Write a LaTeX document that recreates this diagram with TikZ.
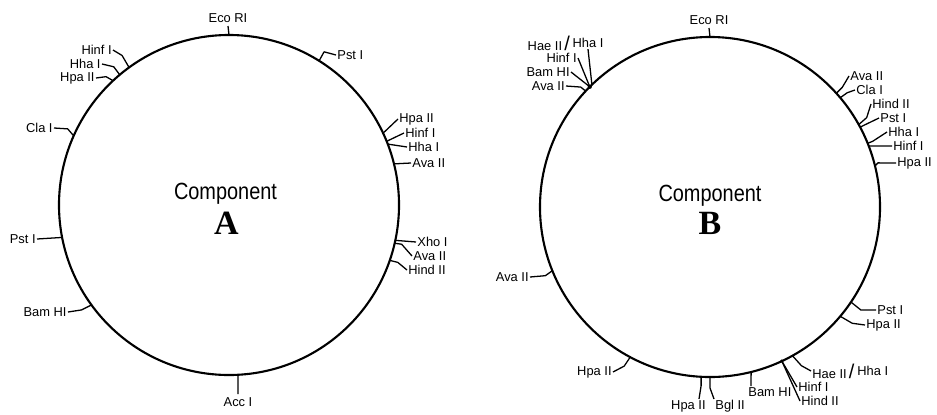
\documentclass[tikz,border=0pt]{standalone}
\usepackage{fontspec}
\setmainfont{Liberation Sans}
\newfontfamily\compfont[FakeStretch=0.85]{Liberation Sans}
\newfontfamily\letterfont{Liberation Serif}
\usetikzlibrary{positioning}
\begin{document}
\begin{tikzpicture}[x=0.03cm, y=-0.03cm,
  every node/.style={font=\fontsize{11}{12}\selectfont},
  plasmid/.style={circle, draw, line width=1.8pt, minimum size=10.2cm, inner sep=0pt, outer sep=0pt},
  site/.style={inner sep=1pt},
  sitetip/.style={inner sep=3pt},
  cut/.style={line width=1.1pt, line join=round},
  comptext/.style={font=\compfont\fontsize{20}{22}\selectfont},
  completter/.style={font=\letterfont\bfseries\fontsize{29}{30}\selectfont}
]
\useasboundingbox (0,0) rectangle (937,414);
% Component A
\node[plasmid] (A) at (229,205) {};
\node[comptext] (compA) at (225.5,194) {Component};
\node[completter] (letA) at (226.5,223) {A};
\node[sitetip, anchor=south] (ecoA) at (228,26) {Eco RI};
\node[site, anchor=west] (pstA1) at (336,55) {Pst I};
\node[site, anchor=west] (hpaA1) at (398,119) {Hpa II};
\node[site, anchor=west] (hinfA1) at (404,133) {Hinf I};
\node[site, anchor=west] (hhaA1) at (407,147) {Hha I};
\node[site, anchor=west] (avaA1) at (411,163) {Ava II};
\node[site, anchor=west] (xhoA) at (416,242) {Xho I};
\node[site, anchor=west] (avaA2) at (412,256) {Ava II};
\node[site, anchor=west] (hindA) at (407,270) {Hind II};
\node[sitetip, anchor=north] (accA) at (238,394) {Acc I};
\node[site, anchor=east] (bamA) at (68,312) {Bam HI};
\node[site, anchor=east] (pstA2) at (37,239) {Pst I};
\node[site, anchor=east] (claA) at (54,128) {Cla I};
\node[site, anchor=east] (hpaA2) at (96,78) {Hpa II};
\node[site, anchor=east] (hhaA2) at (102,64) {Hha I};
\node[site, anchor=east] (hinfA2) at (113,50) {Hinf I};
\draw[cut] (A.90) -- (ecoA.south);
\draw[cut] (A.58) -- ++(5,-9) -- (pstA1.west);
\draw[cut] (A.25) -- (hpaA1.west);
\draw[cut] (A.22) -- (hinfA1.west);
\draw[cut] (A.21) -- (hhaA1.west);
\draw[cut] (A.14) -- (avaA1.west);
\draw[cut] (A.348) -- (xhoA.west);
\draw[cut] (A.347) -- ++(7,1) -- (avaA2.west);
\draw[cut] (A.341) -- ++(8,2) -- (hindA.west);
\draw[cut] (A.273) -- (accA.north);
\draw[cut] (A.216) -- ++(-10,5) -- (bamA.east);
\draw[cut] (A.191) -- (pstA2.east);
\draw[cut] (A.156) -- ++(-6,-7) -- (claA.east);
\draw[cut] (A.133) -- ++(-7,-4) -- (hpaA2.east);
\draw[cut] (A.130) -- ++(-6,-8) -- (hhaA2.east);
\draw[cut] (A.126) -- ++(-7,-12) -- (hinfA2.east);
% Component B
\node[plasmid] (B) at (710,207) {};
\node[comptext] (compB) at (710,196) {Component};
\node[completter] (letB) at (710,223) {B};
\node[sitetip, anchor=south] (ecoB) at (709,28) {Eco RI};
\node[site] (hhaB1) at (588,43) {Hha I};
\node[site, left=0pt of hhaB1] (haeB1) {Hae II\,{\fontsize{17}{17}\selectfont/}};
\node[site, anchor=east] (hinfB1) at (578,58) {Hinf I};
\node[site, anchor=east] (bamB1) at (571,72) {Bam HI};
\node[site, anchor=east] (avaB1) at (566,86) {Ava II};
\node[site, anchor=west] (avaB2) at (849,76) {Ava II};
\node[site, anchor=west] (claB) at (855,90) {Cla I};
\node[site, anchor=west] (hindB1) at (871,104) {Hind II};
\node[site, anchor=west] (pstB1) at (879,118) {Pst I};
\node[site, anchor=west] (hhaB2) at (887,132) {Hha I};
\node[site, anchor=west] (hinfB2) at (892,146) {Hinf I};
\node[site, anchor=west] (hpaB1) at (896,163) {Hpa II};
\node[site, anchor=west] (pstB2) at (876,310) {Pst I};
\node[site, anchor=west] (hpaB2) at (865,325) {Hpa II};
\node[site, anchor=west] (haeB2) at (811,371) {Hae II\,{\fontsize{17}{17}\selectfont/}};
\node[site, right=0pt of haeB2] (hhaB3) {Hha I};
\node[site, anchor=west] (hinfB3) at (797,387) {Hinf I};
\node[site, anchor=west] (hindB2) at (800,401) {Hind II};
\node[site, anchor=north west] (bamB2) at (747,386) {Bam HI};
\node[site, anchor=north west] (bglB) at (714,399) {Bgl II};
\node[site, anchor=north east] (hpaB3) at (707,399) {Hpa II};
\node[site, anchor=east] (hpaB4) at (613,372) {Hpa II};
\node[site, anchor=east] (avaB3) at (530,277) {Ava II};
\draw[cut] (B.90) -- (ecoB.south);
\draw[cut] (B.134) -- (hhaB1.south);
\draw[cut] (B.135) -- (hinfB1.east);
\draw[cut] (B.135) -- (bamB1.east);
\fill (B.135) circle (1.8pt);
\draw[cut] (B.137) -- ++(-5,-4) -- (avaB1.east);
\draw[cut] (B.42) -- ++(6,-6) -- (avaB2.west);
\draw[cut] (B.40) -- ++(7,-5) -- (claB.west);
\draw[cut] (B.29) -- ++(8,-7) -- (hindB1.west);
\draw[cut] (B.28) -- ++(4,-2) -- (pstB1.west);
\draw[cut] (B.22) -- ++(5,-2) -- (hhaB2.west);
\draw[cut] (B.21) -- (hinfB2.west);
\draw[cut] (B.14) -- ++(3,-3) -- (hpaB1.west);
\draw[cut] (B.326) -- ++(10,8) -- (pstB2.west);
\draw[cut] (B.320) -- ++(12,7) -- (hpaB2.west);
\draw[cut] (B.299) -- ++(9,10) -- (haeB2.west);
\draw[cut] (B.295) -- (hinfB3.west);
\draw[cut] (B.295) -- (hindB2.west);
\fill (B.295) circle (1.5pt);
\draw[cut] (B.284) -- ([xshift=0.12cm]bamB2.north west);
\draw[cut] (B.270) -- ++(0,11) -- (bglB.north west);
\draw[cut] (B.267) -- ++(0,9) -- ([xshift=-0.24cm]hpaB3.north east);
\draw[cut] (B.242) -- ++(-6,9) -- (hpaB4.east);
\draw[cut] (B.202) -- ++(-7,5) -- (avaB3.east);
\end{tikzpicture}
\end{document}
